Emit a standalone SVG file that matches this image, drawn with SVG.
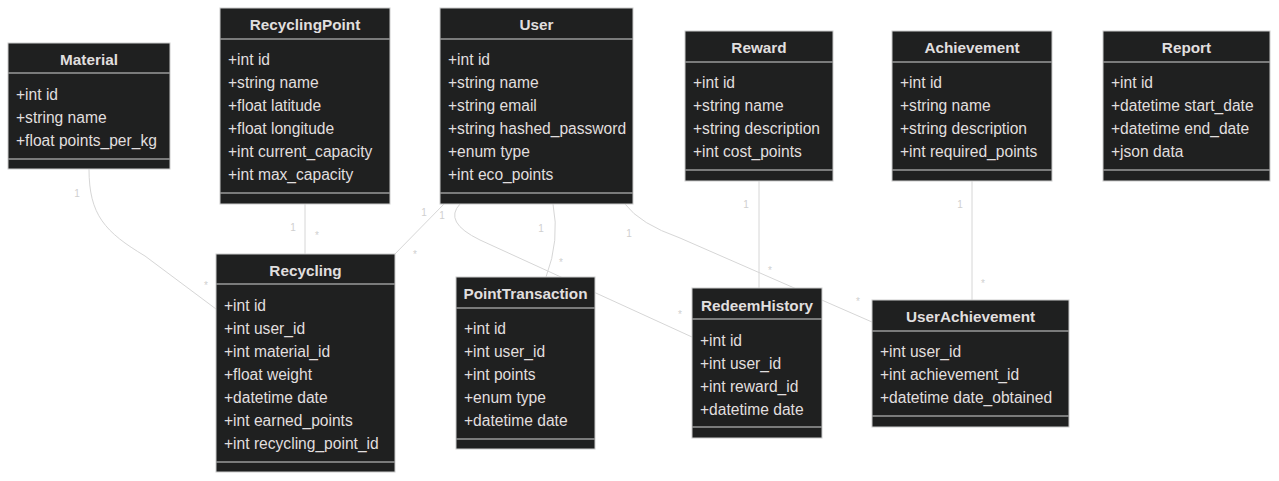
<svg xmlns="http://www.w3.org/2000/svg" width="1279" height="481" viewBox="0 0 1279 481">
<style>
.bg{fill:#ffffff}
.box{fill:#1f2020;stroke:#cccccc;stroke-width:1}
.div{stroke:#9a9a9a;stroke-width:1.5}
.t{font-family:"Liberation Sans",Arial,sans-serif;font-size:15.3px;font-weight:bold;fill:#e0dfdf;text-anchor:middle}
.m{font-family:"Liberation Sans",Arial,sans-serif;font-size:15.6px;fill:#e0dfdf}
.e{fill:none;stroke:#d6d6d6;stroke-width:1}
.l{font-family:"Liberation Sans",Arial,sans-serif;font-size:10px;fill:#cfcfcf;text-anchor:middle}
</style>
<rect class="bg" x="0" y="0" width="1279" height="481"/>
<g id="connectors">
<path class="e" d="M89,169 C89,215 105,232 145,256 L216,309"/>
<path class="e" d="M305,204 L305,254"/>
<path class="e" d="M444,204 L392,257"/>
<path class="e" d="M460,204 Q443,222 480,240 L692,337"/>
<path class="e" d="M553,204 Q560,240 546,277"/>
<path class="e" d="M625,204 Q640,224 680,238 L872,322"/>
<path class="e" d="M759,181 L759,288"/>
<path class="e" d="M972,181 L972,300"/>
<text class="l" x="77" y="197">1</text>
<text class="l" x="206" y="289">*</text>
<text class="l" x="293" y="231">1</text>
<text class="l" x="317" y="239">*</text>
<text class="l" x="424" y="216">1</text>
<text class="l" x="415" y="258">*</text>
<text class="l" x="442" y="219">1</text>
<text class="l" x="680" y="318">*</text>
<text class="l" x="541" y="232">1</text>
<text class="l" x="561" y="266">*</text>
<text class="l" x="629" y="237">1</text>
<text class="l" x="858" y="305">*</text>
<text class="l" x="746" y="208">1</text>
<text class="l" x="770" y="274">*</text>
<text class="l" x="960" y="208">1</text>
<text class="l" x="983" y="287">*</text>
</g>
<g id="Material">
<rect class="box" x="8" y="43" width="162" height="126"/>
<line class="div" x1="8" y1="73" x2="170" y2="73"/>
<line class="div" x1="8" y1="159" x2="170" y2="159"/>
<text class="t" x="89" y="64.5">Material</text>
<text class="m" x="16" y="99.5">+int id</text>
<text class="m" x="16" y="122.5">+string name</text>
<text class="m" x="16" y="145.5">+float points_per_kg</text>
</g>
<g id="RecyclingPoint">
<rect class="box" x="220" y="8" width="170" height="196"/>
<line class="div" x1="220" y1="39" x2="390" y2="39"/>
<line class="div" x1="220" y1="193" x2="390" y2="193"/>
<text class="t" x="305" y="29.5">RecyclingPoint</text>
<text class="m" x="228" y="64.5">+int id</text>
<text class="m" x="228" y="87.5">+string name</text>
<text class="m" x="228" y="110.5">+float latitude</text>
<text class="m" x="228" y="133.5">+float longitude</text>
<text class="m" x="228" y="156.5">+int current_capacity</text>
<text class="m" x="228" y="179.5">+int max_capacity</text>
</g>
<g id="User">
<rect class="box" x="440" y="8" width="193" height="196"/>
<line class="div" x1="440" y1="39" x2="633" y2="39"/>
<line class="div" x1="440" y1="193" x2="633" y2="193"/>
<text class="t" x="536.5" y="29.5">User</text>
<text class="m" x="448" y="64.5">+int id</text>
<text class="m" x="448" y="87.5">+string name</text>
<text class="m" x="448" y="110.5">+string email</text>
<text class="m" x="448" y="133.5">+string hashed_password</text>
<text class="m" x="448" y="156.5">+enum type</text>
<text class="m" x="448" y="179.5">+int eco_points</text>
</g>
<g id="Reward">
<rect class="box" x="685" y="31" width="148" height="150"/>
<line class="div" x1="685" y1="62" x2="833" y2="62"/>
<line class="div" x1="685" y1="170" x2="833" y2="170"/>
<text class="t" x="759" y="52.5">Reward</text>
<text class="m" x="693" y="87.5">+int id</text>
<text class="m" x="693" y="110.5">+string name</text>
<text class="m" x="693" y="133.5">+string description</text>
<text class="m" x="693" y="156.5">+int cost_points</text>
</g>
<g id="Achievement">
<rect class="box" x="892" y="31" width="160" height="150"/>
<line class="div" x1="892" y1="62" x2="1052" y2="62"/>
<line class="div" x1="892" y1="170" x2="1052" y2="170"/>
<text class="t" x="972" y="52.5">Achievement</text>
<text class="m" x="900" y="87.5">+int id</text>
<text class="m" x="900" y="110.5">+string name</text>
<text class="m" x="900" y="133.5">+string description</text>
<text class="m" x="900" y="156.5">+int required_points</text>
</g>
<g id="Report">
<rect class="box" x="1103" y="31" width="167" height="150"/>
<line class="div" x1="1103" y1="62" x2="1270" y2="62"/>
<line class="div" x1="1103" y1="170" x2="1270" y2="170"/>
<text class="t" x="1186.5" y="52.5">Report</text>
<text class="m" x="1111" y="87.5">+int id</text>
<text class="m" x="1111" y="110.5">+datetime start_date</text>
<text class="m" x="1111" y="133.5">+datetime end_date</text>
<text class="m" x="1111" y="156.5">+json data</text>
</g>
<g id="Recycling">
<rect class="box" x="216" y="254" width="179" height="218"/>
<line class="div" x1="216" y1="284" x2="395" y2="284"/>
<line class="div" x1="216" y1="462" x2="395" y2="462"/>
<text class="t" x="305.5" y="275.5">Recycling</text>
<text class="m" x="224" y="310.5">+int id</text>
<text class="m" x="224" y="333.5">+int user_id</text>
<text class="m" x="224" y="356.5">+int material_id</text>
<text class="m" x="224" y="379.5">+float weight</text>
<text class="m" x="224" y="402.5">+datetime date</text>
<text class="m" x="224" y="425.5">+int earned_points</text>
<text class="m" x="224" y="448.5">+int recycling_point_id</text>
</g>
<g id="PointTransaction">
<rect class="box" x="456" y="277" width="139" height="172"/>
<line class="div" x1="456" y1="308" x2="595" y2="308"/>
<line class="div" x1="456" y1="439" x2="595" y2="439"/>
<text class="t" x="525.5" y="298.5">PointTransaction</text>
<text class="m" x="464" y="333.5">+int id</text>
<text class="m" x="464" y="356.5">+int user_id</text>
<text class="m" x="464" y="379.5">+int points</text>
<text class="m" x="464" y="402.5">+enum type</text>
<text class="m" x="464" y="425.5">+datetime date</text>
</g>
<g id="RedeemHistory">
<rect class="box" x="692" y="288" width="130" height="150"/>
<line class="div" x1="692" y1="319" x2="822" y2="319"/>
<line class="div" x1="692" y1="427" x2="822" y2="427"/>
<text class="t" x="757" y="310.5">RedeemHistory</text>
<text class="m" x="700" y="345.5">+int id</text>
<text class="m" x="700" y="368.5">+int user_id</text>
<text class="m" x="700" y="391.5">+int reward_id</text>
<text class="m" x="700" y="414.5">+datetime date</text>
</g>
<g id="UserAchievement">
<rect class="box" x="872" y="300" width="197" height="127"/>
<line class="div" x1="872" y1="331" x2="1069" y2="331"/>
<line class="div" x1="872" y1="416" x2="1069" y2="416"/>
<text class="t" x="970.5" y="321.5">UserAchievement</text>
<text class="m" x="880" y="356.5">+int user_id</text>
<text class="m" x="880" y="379.5">+int achievement_id</text>
<text class="m" x="880" y="402.5">+datetime date_obtained</text>
</g>
</svg>
